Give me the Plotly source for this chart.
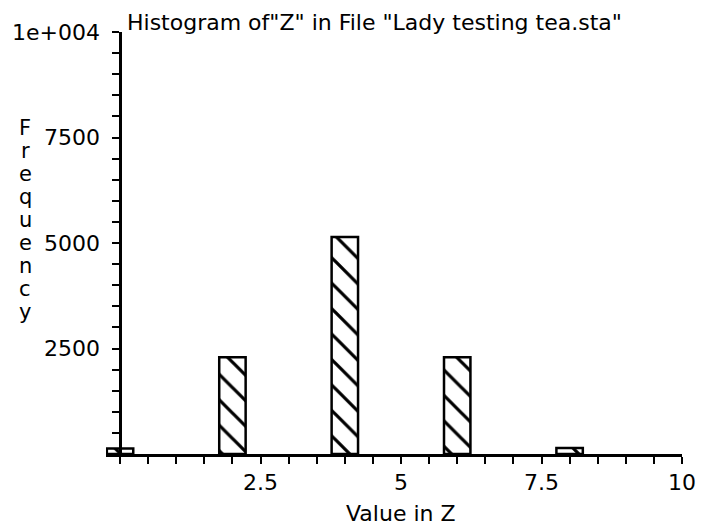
import plotly.graph_objects as go

# Data
z_values = [0, 2, 4, 6, 8]
frequencies = [130, 2290, 5140, 2290, 140]
bar_width = 0.47

x_tickvals = [2.5, 5, 7.5, 10]
x_ticktext = ["2.5", "5", "7.5", "10"]
y_tickvals = [2500, 5000, 7500, 10000]
y_ticktext = ["2500", "5000", "7500", "1e+004"]

title_text = 'Histogram of"Z" in File "Lady testing tea.sta"'
x_title = "Value in Z"
y_title_letters = list("Frequency")

FONT = "DejaVu Sans, Arial, sans-serif"

# page body has an 8px margin; compensate so the figure fills the window
OFF = 8
W, H = 707 - OFF, 527 - OFF
ML = 106 - OFF
MR = W - (682 - OFF)
MT = 32 - OFF
MB = H - (454 - OFF)
PW = W - ML - MR
PH = H - MT - MB
x_range = [-0.25, 10]

fig = go.Figure()
fig.add_trace(go.Bar(
    x=z_values, y=frequencies, width=bar_width,
    marker=dict(
        color="white",
        line=dict(color="black", width=2.5),
        pattern=dict(shape="\\", fgcolor="black", bgcolor="white", fgopacity=1,
                     size=18, solidity=0.18),
    ),
    showlegend=False,
))

yaxis_pos = (0 - x_range[0]) / (x_range[1] - x_range[0])

fig.update_layout(
    width=W, height=H,
    margin=dict(l=ML, r=MR, t=MT, b=MB, autoexpand=False),
    paper_bgcolor="white", plot_bgcolor="white",
    font=dict(family=FONT, size=22, color="black"),
    xaxis=dict(
        range=x_range, showgrid=False, zeroline=False, automargin=False,
        showline=True, linecolor="black", linewidth=2.5,
        tickvals=x_tickvals, ticktext=x_ticktext,
        ticks="outside", ticklen=7, tickwidth=2, tickcolor="black",
        minor=dict(dtick=0.5, tick0=0, ticks="outside", ticklen=7, tickwidth=2, tickcolor="black"),
        tickfont=dict(size=22),
    ),
    yaxis=dict(
        range=[0, 10000], showgrid=False, zeroline=False, automargin=False,
        anchor="free", position=yaxis_pos,
        showline=True, linecolor="black", linewidth=2.5,
        tickvals=y_tickvals, ticktext=y_ticktext,
        ticks="outside", ticklen=7, tickwidth=2, tickcolor="black",
        minor=dict(dtick=500, tick0=0, ticks="outside", ticklen=7, tickwidth=2, tickcolor="black"),
        tickfont=dict(size=22),
        ticklabelstandoff=8,
    ),
    title=dict(text=title_text, x=(127 - OFF) / W, xanchor="left", xref="container",
               y=1 - (22 - OFF) / H, yanchor="middle", yref="container", font=dict(size=22)),
)

# x-axis title
fig.add_annotation(
    text=x_title, xref="paper", yref="paper",
    x=(401 - OFF - ML) / PW, y=-(513 - 454) / PH,
    xanchor="center", yanchor="middle", showarrow=False, font=dict(size=22),
)

# Vertical stacked "Frequency" label
for i, ch in enumerate(y_title_letters):
    ypix = 128 + i * 23 - OFF
    fig.add_annotation(
        text=ch, xref="paper", yref="paper",
        x=(25 - OFF - ML) / PW, y=1 - (ypix - MT) / PH,
        xanchor="center", yanchor="middle", showarrow=False,
        font=dict(size=21),
    )

fig.write_html("out.html")
